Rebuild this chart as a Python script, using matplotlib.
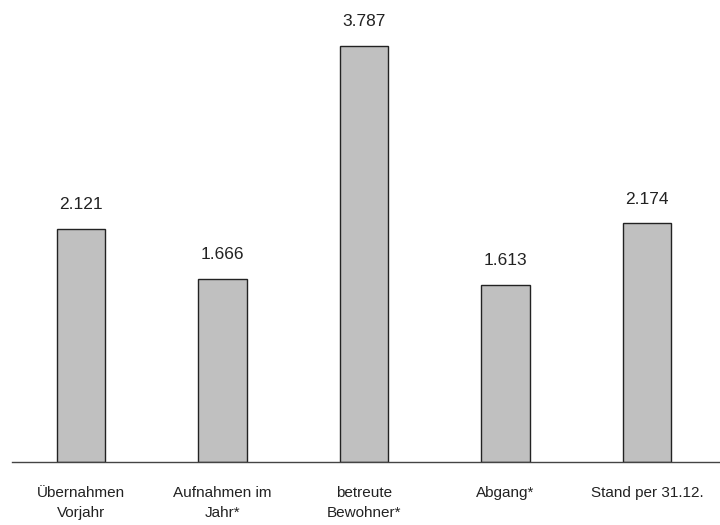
import matplotlib.pyplot as plt

# data
categories = ['Übernahmen\nVorjahr', 'Aufnahmen im\nJahr*', 'betreute\nBewohner*', 'Abgang*', 'Stand per 31.12.']
values = [2121, 1666, 3787, 1613, 2174]
value_labels = ['2.121', '1.666', '3.787', '1.613', '2.174']

plt.rcParams['font.family'] = ['Liberation Sans', 'DejaVu Sans']

fig = plt.figure(figsize=(7.2, 5.25), dpi=100)
ax = fig.add_axes([12 / 720, 63 / 525, 1 - 12 / 720, 1 - 63 / 525])

x = range(len(values))
bars = ax.bar(x, values, width=0.34, color='#c0c0c0', edgecolor='#222222', linewidth=1)

for b, lab in zip(bars, value_labels):
    ax.annotate(lab, (b.get_x() + b.get_width() / 2, b.get_height()),
                xytext=(0, 12), textcoords='offset points',
                ha='center', va='bottom', fontsize=12.5, color='#222222')

ax.set_xlim(-0.488, 4.516)
ax.set_ylim(0, 4206)

ax.set_xticks(list(x))
ax.set_xticklabels(categories, fontsize=11, color='#222222', linespacing=1.6)
ax.tick_params(axis='x', length=0, pad=17)
ax.set_yticks([])

for s in ['top', 'right', 'left']:
    ax.spines[s].set_visible(False)
ax.spines['bottom'].set_color('#444444')
ax.spines['bottom'].set_linewidth(1)

fig.savefig('out.png', dpi=100)
